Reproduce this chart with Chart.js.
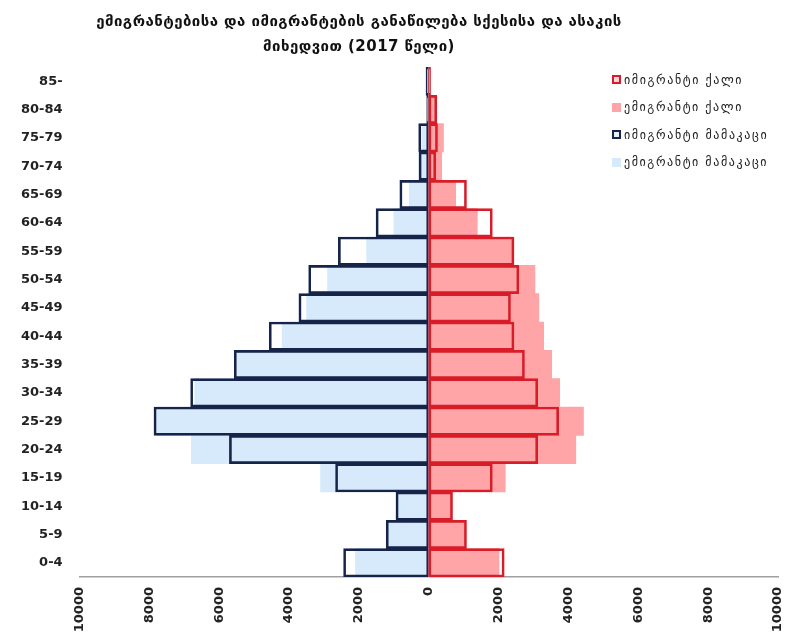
<!DOCTYPE html>
<html>
<head>
<meta charset="utf-8">
<script src="https://cdn.jsdelivr.net/npm/chart.js@4"></script>
<style>
  body { margin: 0; background: #fff; }
  #wrap { position: relative; width: 785px; height: 636px; }
  #title {
    position: absolute; left: 38px; top: 9px; width: 642px;
    text-align: center; font: bold 15px "DejaVu Sans", sans-serif; line-height: 25px; color: #111;
    letter-spacing: 0.45px;
  }
  #legend { position: absolute; left: 612px; top: 66px; font: 12px "DejaVu Sans", sans-serif; color: #222; letter-spacing: 1.6px; }
  #legend div { height: 27.5px; display: flex; align-items: center; }
  #legend span.box { display: inline-block; width: 9px; height: 9px; margin-right: 3px; box-sizing: border-box; }
</style>
</head>
<body>
<div id="wrap">
  <canvas id="pyramid" width="785" height="636"></canvas>
  <div id="title">ემიგრანტებისა და იმიგრანტების განაწილება სქესისა და ასაკის<br>მიხედვით (2017 წელი)</div>
  <div id="legend"></div>
</div>
<script>
// Age groups, top to bottom
const ageGroups = ['85-', '80-84', '75-79', '70-74', '65-69', '60-64', '55-59', '50-54', '45-49',
                   '40-44', '35-39', '30-34', '25-29', '20-24', '15-19', '10-14', '5-9', '0-4'];

const immigrantFemale = [50, 230, 250, 200, 1080, 1820, 2440, 2580, 2340, 2440, 2740, 3120, 3720, 3120, 1820, 680, 1080, 2160];
const emigrantFemale  = [40, 180, 420, 370, 770, 1390, 2390, 3040, 3150, 3290, 3520, 3750, 4430, 4210, 2190, 660, 1060, 2010];
const immigrantMale   = [80, 60, 290, 280, 830, 1510, 2590, 3440, 3720, 4570, 5570, 6820, 7870, 5710, 2670, 940, 1220, 2440];
const emigrantMale    = [20, 50, 200, 280, 560, 1000, 1780, 2900, 3500, 4200, 5480, 6700, 7800, 6800, 3100, 880, 1160, 2100];

const xTicks = [-10000, -8000, -6000, -4000, -2000, 0, 2000, 4000, 6000, 8000, 10000];

const neg = arr => arr.map(v => -v);

const datasets = [
    { label: 'იმიგრანტი ქალი', data: immigrantFemale, backgroundColor: 'rgba(0,0,0,0)', borderColor: '#d81c28', borderWidth: 2 },
    { label: 'ემიგრანტი ქალი', data: emigrantFemale, backgroundColor: '#ffa5a8', borderColor: '#ffa5a8', borderWidth: 0 },
    { label: 'იმიგრანტი მამაკაცი', data: neg(immigrantMale), backgroundColor: 'rgba(0,0,0,0)', borderColor: '#17244a', borderWidth: 2 },
    { label: 'ემიგრანტი მამაკაცი', data: neg(emigrantMale), backgroundColor: '#d6eafb', borderColor: '#d6eafb', borderWidth: 0 }
];
datasets.forEach(d => {
    d.grouped = false;
    d.barPercentage = 1;
    d.categoryPercentage = 1;
    d.borderSkipped = false;
});

const ctx = document.getElementById('pyramid').getContext('2d');
const chart = new Chart(ctx, {
    type: 'bar',
    data: { labels: ageGroups, datasets: datasets },
    options: {
        indexAxis: 'y',
        responsive: false,
        animation: false,
        layout: { padding: { top: 67, left: 4, right: 7, bottom: 4 } },
        plugins: {
            legend: { display: false },
            tooltip: { enabled: false }
        },
        scales: {
            x: {
                min: -10000,
                max: 10000,
                afterBuildTicks: axis => { axis.ticks = xTicks.map(v => ({ value: v })); },
                afterFit: axis => {
                    // rotated end labels should not shrink the plot
                    axis.paddingLeft = 0;
                    axis.paddingRight = 0;
                    axis.height = 55;
                },
                grid: { display: false, drawTicks: false },
                border: { display: true, color: '#a0a0a0', width: 1.5 },
                ticks: {
                    minRotation: 90,
                    maxRotation: 90,
                    padding: 10,
                    color: '#222',
                    font: { family: 'DejaVu Sans', size: 13, weight: 'bold' },
                    callback: v => Math.abs(v)
                }
            },
            y: {
                grid: { display: false, drawTicks: false },
                border: { display: false },
                ticks: {
                    padding: 17,
                    color: '#222',
                    font: { family: 'DejaVu Sans', size: 13, weight: 'bold' }
                }
            }
        }
    }
});

// HTML legend built from the datasets
const legend = document.getElementById('legend');
chart.data.datasets.forEach(d => {
    const row = document.createElement('div');
    const box = document.createElement('span');
    box.className = 'box';
    if (d.borderWidth > 0) {
        box.style.border = '2px solid ' + d.borderColor;
        box.style.background = d.borderColor === '#d81c28' ? '#ffd6d8' : '#e6eefa';
    } else {
        box.style.background = d.backgroundColor;
    }
    row.appendChild(box);
    row.appendChild(document.createTextNode(d.label));
    legend.appendChild(row);
});
</script>
</body>
</html>
